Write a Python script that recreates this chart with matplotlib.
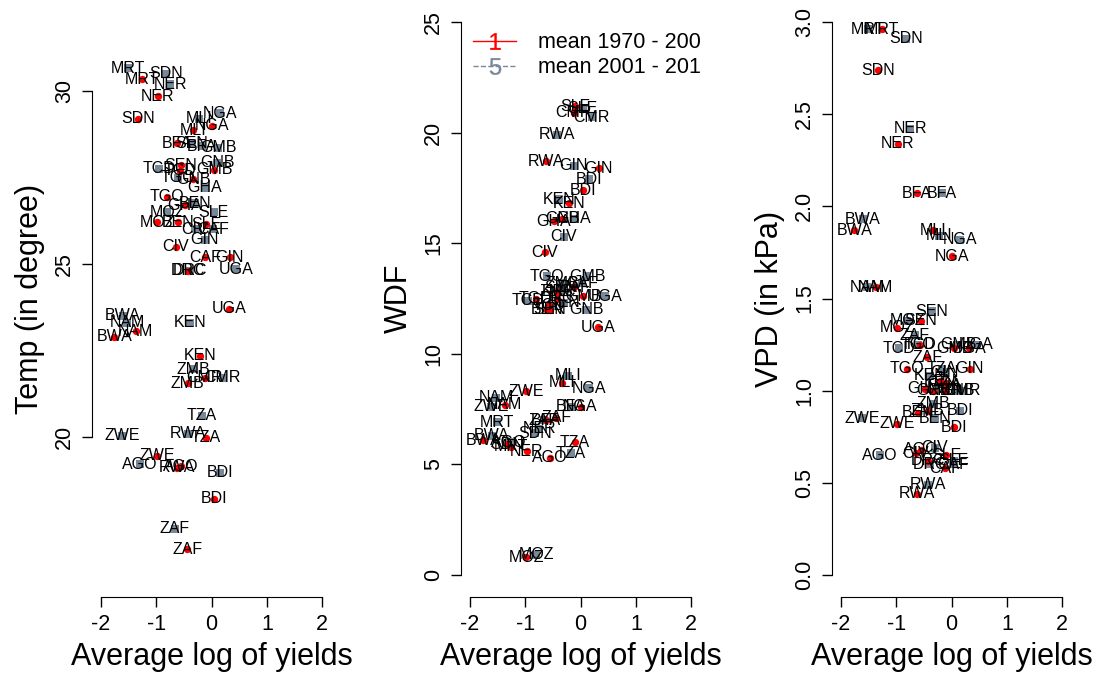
import matplotlib.pyplot as plt
from matplotlib.lines import Line2D

plt.rcParams['font.family'] = ['Liberation Sans', 'DejaVu Sans']
plt.rcParams['mathtext.default'] = 'regular'

# country codes
countries = ["MRT", "SDN", "NER", "NGA", "MLI", "BFA", "BWA", "NAM", "ZWE", "AGO",
             "RWA", "BDI", "ZAF", "TZA", "KEN", "ZMB", "CMR", "UGA", "GIN", "CAF",
             "DRC", "CIV", "SLE", "MOZ", "BEN", "TGO", "TCD", "SEN", "GMB", "GNB", "GHA"]

# average log of yields, 1970-2000 and 2001-2019
x_7000 = [-1.26, -1.33, -0.97, 0.00, -0.33, -0.62, -1.76, -1.37, -0.98, -0.55,
          -0.62, 0.04, -0.44, -0.10, -0.20, -0.43, -0.12, 0.31, 0.33, -0.12,
          -0.42, -0.65, -0.10, -0.98, -0.60, -0.80, -0.57, -0.55, 0.05, -0.33, -0.48]
x_0119 = [-1.51, -0.82, -0.75, 0.15, -0.22, -0.17, -1.60, -1.52, -1.62, -1.30,
          -0.42, 0.15, -0.66, -0.18, -0.38, -0.33, 0.20, 0.45, -0.12, 0.03,
          -0.38, -0.30, 0.04, -0.80, -0.30, -0.60, -0.95, -0.35, 0.12, 0.10, -0.12]

# temperature
temp_7000 = [30.35, 29.20, 29.85, 29.00, 28.87, 28.50, 22.90, 23.05, 19.45, 19.15,
             19.10, 18.20, 16.74, 19.97, 22.35, 21.55, 21.70, 23.70, 25.20, 25.20,
             24.80, 25.50, 26.15, 26.20, 26.20, 26.95, 27.70, 27.85, 27.73, 27.45, 26.70]
temp_0119 = [30.67, 30.50, 30.20, 29.36, 29.20, 28.40, 23.50, 23.30, 20.03, 19.20,
             20.08, 18.95, 17.33, 20.60, 23.30, 21.95, 21.70, 24.85, 25.70, 26.00,
             24.80, 26.00, 26.50, 26.50, 26.75, 27.50, 27.75, 28.50, 28.37, 27.93, 27.20]

# WDF
wdf_7000 = [5.8, 5.9, 5.6, 7.6, 8.7, 7.0, 6.1, 7.7, 8.3, 5.3,
            18.7, 17.4, 7.1, 6.0, 16.8, 12.8, 20.9, 11.2, 18.4, 13.0,
            12.5, 14.6, 21.2, 0.8, 12.0, 12.5, 12.2, 12.0, 12.6, 16.1, 16.0]
wdf_0119 = [6.9, 6.4, 6.6, 8.45, 9.0, 7.6, 6.3, 8.0, 7.6, 6.0,
            19.9, 17.9, 7.0, 5.5, 17.0, 13.2, 20.7, 12.6, 18.5, 13.2,
            12.8, 15.3, 21.1, 0.9, 12.3, 13.5, 12.4, 13.0, 13.5, 12.0, 16.1]

# VPD
vpd_7000 = [2.96, 2.74, 2.34, 1.73, 1.87, 2.07, 1.87, 1.56, 0.82, 0.68,
            0.44, 0.80, 1.18, 1.04, 1.05, 0.89, 1.00, 1.23, 1.12, 0.58,
            0.62, 0.66, 0.65, 1.34, 0.88, 1.12, 1.25, 1.38, 1.23, 1.00, 1.01]
vpd_0119 = [2.96, 2.91, 2.42, 1.82, 1.84, 2.07, 1.93, 1.56, 0.85, 0.65,
            0.49, 0.89, 1.30, 1.12, 1.08, 0.93, 1.00, 1.25, 1.10, 0.60,
            0.60, 0.69, 0.62, 1.38, 0.85, 1.25, 1.23, 1.43, 1.25, 1.00, 1.03]

red = "#FF0000"
grey = "#778899"

panels = [
    (temp_7000, temp_0119, "Temp (in degree)", (15.36, 32.64), [20, 25, 30], ["20", "25", "30"], 92),
    (wdf_7000, wdf_0119, "WDF", (-1, 26), [0, 5, 10, 15, 20, 25], ["0", "5", "10", "15", "20", "25"], 461),
    (vpd_7000, vpd_0119, "VPD (in kPa)", (-0.12, 3.12), [0, 0.5, 1, 1.5, 2, 2.5, 3],
     ["0.0", "0.5", "1.0", "1.5", "2.0", "2.5", "3.0"], 832),
]

fig = plt.figure(figsize=(10.99, 6.75), dpi=100)

for i, (y1, y2, ylab, ylim, yt, ytl, left_px) in enumerate(panels):
    ax = fig.add_axes([left_px / 1099, 78 / 675, 239 / 1099, 597 / 675])
    ax.set_xlim(-2.16, 2.16)
    ax.set_ylim(*ylim)

    ax.scatter(x_0119, y2, s=40, color=grey, marker='s', linewidths=0, zorder=3)
    ax.scatter(x_7000, y1, s=28, color=red, marker='o', linewidths=0, zorder=4)
    for c, xx, yy in zip(countries, x_0119, y2):
        ax.text(xx, yy, c, ha='center', va='center', fontsize=11.5, zorder=5)
    for c, xx, yy in zip(countries, x_7000, y1):
        ax.text(xx, yy, c, ha='center', va='center', fontsize=11.5, zorder=5)

    for s in ['top', 'right']:
        ax.spines[s].set_visible(False)
    ax.spines['left'].set_bounds(yt[0], yt[-1])
    ax.spines['bottom'].set_bounds(-2, 2)
    ax.set_xticks([-2, -1, 0, 1, 2])
    ax.set_xticklabels(["-2", "-1", "0", "1", "2"])
    ax.set_yticks(yt)
    ax.set_yticklabels(ytl)
    ax.tick_params(direction='out', length=7, width=1, labelsize=15.5, pad=5)
    for lab in ax.get_yticklabels():
        lab.set_rotation(90)
        lab.set_va('center')

    ax.set_xlabel("Average log of yields", fontsize=22)
    ax.xaxis.set_label_coords(0.5, -0.1)
    ax.xaxis.label.set_va('center')
    ax.set_ylabel(ylab, fontsize=22)
    ax.yaxis.set_label_coords(-0.26, 0.5)
    ax.yaxis.label.set_va('center')

    if i == 1:
        handles = [Line2D([], [], color=red, ls='-', marker='$1$', markersize=12, lw=1.0,
                          markeredgewidth=0.2),
                   Line2D([], [], color=grey, ls='--', marker='$5$', markersize=12, lw=1.0,
                          markeredgewidth=0.2)]
        leg = ax.legend(handles, ["mean 1970 - 2000", "mean 2001 - 2019"],
                        loc='upper left', bbox_to_anchor=(-0.02, 0.975), frameon=False,
                        fontsize=15.5, handlelength=2.0, handletextpad=1.0,
                        labelspacing=0.2, borderaxespad=0.4)
        for t in leg.get_texts():
            t.set_clip_on(True)
            t.set_clip_box(ax.bbox)

fig.savefig("out.png", dpi=100)
